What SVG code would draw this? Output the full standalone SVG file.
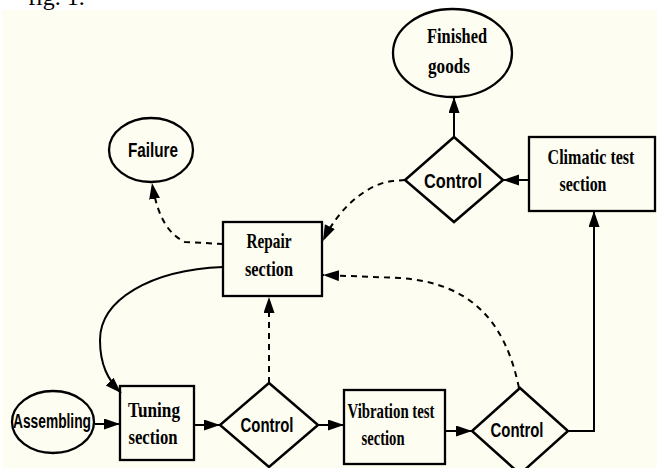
<svg xmlns="http://www.w3.org/2000/svg" width="657" height="468" viewBox="0 0 657 468">
<defs>
<style>
.bg{fill:#fdfdf1}
.shape{fill:none;stroke:#000;stroke-width:2.3}
.dia{fill:none;stroke:#000;stroke-width:2.5}
.con{fill:none;stroke:#000;stroke-width:2}
.dash{stroke-dasharray:6,5}
.sans{font-family:"Liberation Sans",Arial,sans-serif;font-weight:bold;font-size:20px;fill:#000}
.serif{font-family:"Liberation Serif","Times New Roman",serif;font-weight:bold;font-size:22px;fill:#000}
</style>
<marker id="ah" markerUnits="userSpaceOnUse" markerWidth="17" markerHeight="12" refX="16" refY="5.5" orient="auto">
<path d="M0,0 L16,5.5 L0,11 z" fill="#000"/>
</marker>
</defs>
<rect x="0" y="0" width="657" height="468" fill="#fff"/>
<rect class="bg" x="2" y="10" width="655" height="458"/>
<text x="28" y="5" font-family="Liberation Serif,serif" font-size="24" fill="#000">fig. 1.</text>

<g id="connectors">
<path class="con" d="M95,424 L120,424" marker-end="url(#ah)"/>
<path class="con" d="M194,425 L220,425" marker-end="url(#ah)"/>
<path class="con" d="M318,425 L344,425" marker-end="url(#ah)"/>
<path class="con" d="M445,431 L472,431" marker-end="url(#ah)"/>
<path class="con" d="M568,431 L594,431 L594,211" marker-end="url(#ah)"/>
<path class="con" d="M529,180 L503,180" marker-end="url(#ah)"/>
<path class="con" d="M454,137 L454,97" marker-end="url(#ah)"/>
<path class="con dash" d="M405,180 L393,181 C370,183 340,205 323,241" marker-end="url(#ah)"/>
<path class="con dash" d="M519,388 C505,320 470,283 400,278 L323,275" marker-end="url(#ah)"/>
<path class="con dash" d="M269,383 L269,297" marker-end="url(#ah)"/>
<path class="con dash" d="M223,244 L185,242 C170,235 158,220 152,183" marker-end="url(#ah)"/>
<path class="con" d="M223,267 C150,270 100,300 100,340 C100,365 108,380 121,393" marker-end="url(#ah)"/>
</g>

<g id="finished">
<ellipse class="shape" cx="452.5" cy="53" rx="59.5" ry="44"/>
<text class="serif" x="457" y="43" text-anchor="middle" textLength="60" lengthAdjust="spacingAndGlyphs">Finished</text>
<text class="serif" x="449" y="73" text-anchor="middle" textLength="42" lengthAdjust="spacingAndGlyphs">goods</text>
</g>
<g id="failure">
<ellipse class="shape" cx="151" cy="150" rx="42" ry="32"/>
<text class="sans" x="153" y="157" text-anchor="middle" textLength="50" lengthAdjust="spacingAndGlyphs">Failure</text>
</g>
<g id="control-top">
<polygon class="dia" points="454,137 503,180 454,222 405,180"/>
<text class="sans" x="453" y="188" text-anchor="middle" font-size="22" textLength="58" lengthAdjust="spacingAndGlyphs">Control</text>
</g>
<g id="climatic">
<rect class="shape" x="529" y="137" width="126" height="74"/>
<text class="serif" transform="translate(591,164) scale(0.73,1)" x="0" y="0" text-anchor="middle">Climatic test</text>
<text class="serif" x="583" y="191" text-anchor="middle" textLength="47" lengthAdjust="spacingAndGlyphs">section</text>
</g>
<g id="repair">
<rect class="shape" x="223" y="222" width="99" height="74"/>
<text class="serif" x="269" y="248" text-anchor="middle" textLength="45" lengthAdjust="spacingAndGlyphs">Repair</text>
<text class="serif" x="269" y="276" text-anchor="middle" textLength="48" lengthAdjust="spacingAndGlyphs">section</text>
</g>
<g id="assembling">
<ellipse class="shape" cx="53" cy="422" rx="41" ry="31"/>
<text class="sans" x="52" y="428" text-anchor="middle" textLength="78" lengthAdjust="spacingAndGlyphs">Assembling</text>
</g>
<g id="tuning">
<rect class="shape" x="120" y="386" width="74" height="74"/>
<text class="serif" x="154" y="417" text-anchor="middle" textLength="52" lengthAdjust="spacingAndGlyphs">Tuning</text>
<text class="serif" x="153" y="444" text-anchor="middle" textLength="49" lengthAdjust="spacingAndGlyphs">section</text>
</g>
<g id="control-mid">
<polygon class="dia" points="269,383 318,425 269,467 220,425"/>
<text class="sans" x="267" y="432" text-anchor="middle" textLength="53" lengthAdjust="spacingAndGlyphs">Control</text>
</g>
<g id="vibration">
<rect class="shape" x="344" y="390" width="101" height="74"/>
<text class="serif" x="391" y="418" text-anchor="middle" textLength="87" lengthAdjust="spacingAndGlyphs">Vibration test</text>
<text class="serif" x="383" y="445" text-anchor="middle" textLength="43" lengthAdjust="spacingAndGlyphs">section</text>
</g>
<g id="control-right">
<polygon class="dia" points="520,388 568,431 520,474 472,431"/>
<text class="sans" x="517" y="437" text-anchor="middle" textLength="53" lengthAdjust="spacingAndGlyphs">Control</text>
</g>
</svg>
